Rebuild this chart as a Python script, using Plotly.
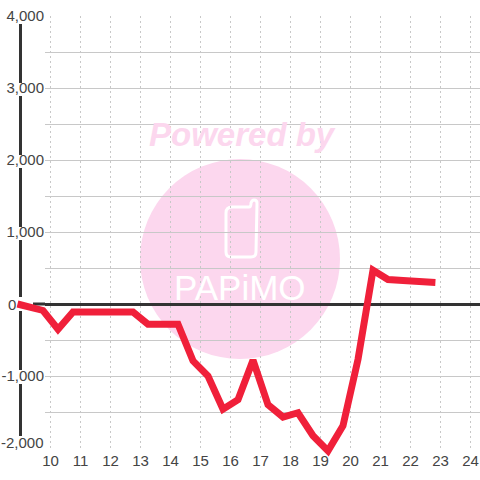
import plotly.graph_objects as go

hours = [8.9, 9.75, 10.25, 10.75, 11.25, 11.75, 12.25, 12.75, 13.25, 13.75, 14.25, 14.75, 15.25, 15.75,
         16.25, 16.75, 17.25, 17.75, 18.25, 18.75, 19.25, 19.75, 20.25, 20.75, 21.25, 21.75, 22.25, 22.83]
values = [0, -90, -350, -110, -110, -110, -110, -110, -280, -280, -280, -790, -1000, -1460,
          -1330, -780, -1400, -1570, -1510, -1830, -2040, -1690, -770, 470, 340, 325, 305, 300]
x_ticks = list(range(10, 25))
y_ticks = [4000, 3500, 3000, 2500, 2000, 1500, 1000, 500, 0, -500, -1000, -1500, -2000]
y_labels = ["4,000", "", "3,000", "", "2,000", "", "1,000", "", "", "", "-1,000", "", ""]

W, H = 480, 480
L, T, B = 45, 16, 448   # pixel edges of the gridded area
def px(p): return p / W
def py(p): return 1 - p / H
def P(x, y): return f"{px(x):.5f} {py(y):.5f}"

def hour_at(p): return 10 + (p - 50.5) / 30
def val_at(p): return (304 - p) * 1000 / 72

fig = go.Figure()
# an unseen copy keeps the gridded subplot alive
fig.add_trace(go.Scatter(x=hours, y=values, mode="lines", line=dict(width=0), opacity=0,
                         hoverinfo="skip", showlegend=False))
# the line sits on a full-page pair of hidden axes so it can run past the grid, as in the reference
fig.add_trace(go.Scatter(x=hours, y=values, mode="lines", xaxis="x2", yaxis="y2",
                         line=dict(color="#f0203a", width=7), hoverinfo="skip", showlegend=False))

DARK = "#333333"
phone = ("M " + P(232, 207) + " L " + P(249, 207) + " Q " + P(251, 207) + " " + P(251, 203)
         + " Q " + P(252, 200) + " " + P(254, 200) + " Q " + P(257, 200) + " " + P(257, 203)
         + " L " + P(256, 252) + " Q " + P(256, 257) + " " + P(251, 257)
         + " L " + P(231, 257) + " Q " + P(226, 257) + " " + P(226, 252)
         + " L " + P(226, 213) + " Q " + P(226, 207) + " " + P(232, 207) + " Z")
shapes = [
    dict(type="circle", xref="paper", yref="paper", x0=px(140), x1=px(340), y0=py(359), y1=py(159),
         fillcolor="#fcd7ee", line_width=0, layer="below"),
    dict(type="path", xref="paper", yref="paper", layer="below", line=dict(color="white", width=3), path=phone),
]
# left axis rail, interrupted behind the value labels
for a, b in [(24, 83), (96, 155), (168, 227), (240, 297), (311, 370), (384, 436)]:
    shapes.append(dict(type="line", xref="paper", yref="paper", x0=px(20.5), x1=px(20.5), y0=py(a), y1=py(b),
                       line=dict(color=DARK, width=3), layer="below"))
shapes.append(dict(type="line", xref="paper", yref="paper", x0=px(33), x1=px(45), y0=py(304), y1=py(304),
                   line=dict(color=DARK, width=3), layer="below"))

annos = [
    dict(text="<b><i>Powered by</i></b>", xref="paper", yref="paper", x=px(242), y=py(134), showarrow=False,
         xanchor="center", yanchor="middle",
         font=dict(family="Liberation Sans", size=33, color="#fcd7ee")),
    dict(text="PAPiMO", xref="paper", yref="paper", x=px(240), y=py(287), showarrow=False,
         xanchor="center", yanchor="middle",
         font=dict(family="Liberation Sans", size=35, color="white")),
    dict(text="0", xref="paper", yref="paper", x=px(12), y=py(304), showarrow=False,
         xanchor="center", yanchor="middle",
         font=dict(family="Liberation Sans", size=15, color="#444444")),
    dict(text="-2,000", xref="paper", yref="paper", x=px(44), y=py(442), showarrow=False,
         xanchor="right", yanchor="middle", xshift=2,
         font=dict(family="Liberation Sans", size=15, color="#444444")),
]

fig.update_layout(
    width=W, height=H, margin=dict(l=0, r=0, t=0, b=0, pad=0, autoexpand=False),
    paper_bgcolor="white", plot_bgcolor="rgba(0,0,0,0)", showlegend=False,
    shapes=shapes, annotations=annos,
    font=dict(family="Liberation Sans", size=15, color="#444444"),
    xaxis=dict(domain=[px(L), 1], range=[hour_at(L), hour_at(W)], anchor="y",
               tickmode="array", tickvals=x_ticks, ticktext=[str(v) for v in x_ticks],
               showgrid=True, gridcolor="#c8c8c8", griddash="2px,3px", gridwidth=1,
               zeroline=False, showline=False, ticks="", ticklabelstandoff=2),
    yaxis=dict(domain=[py(B), py(T)], range=[val_at(B), val_at(T)], anchor="x",
               tickmode="array", tickvals=y_ticks, ticktext=y_labels,
               showgrid=True, gridcolor="#c8c8c8", gridwidth=1, griddash="solid",
               zeroline=True, zerolinecolor=DARK, zerolinewidth=3, showline=False, ticks=""),
    xaxis2=dict(domain=[0, 1], range=[hour_at(0), hour_at(W)], anchor="y2", visible=False),
    yaxis2=dict(domain=[0, 1], range=[val_at(H), val_at(0)], anchor="x2", visible=False),
)
fig.write_html("out.html", config=dict(displayModeBar=False),
               post_script="document.body.style.margin='0';document.documentElement.style.overflow='hidden';")
